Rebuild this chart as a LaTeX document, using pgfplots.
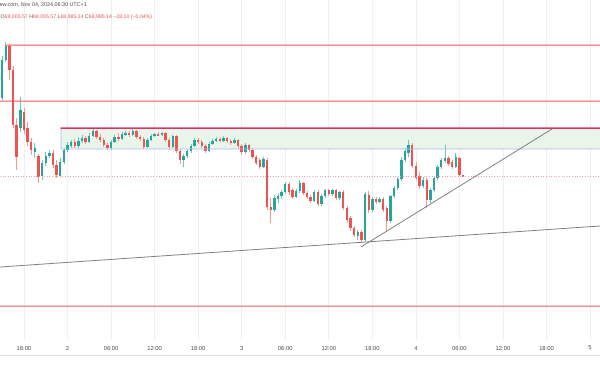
\documentclass[border=0pt]{standalone}
\usepackage{fontspec}
\setmainfont{Liberation Sans}
\usepackage{pgfplots}
\usepackage{pgfplotstable}
\pgfplotsset{compat=1.18}
\definecolor{upc}{HTML}{26A69A}
\definecolor{dnc}{HTML}{EF5350}
\definecolor{lvlred}{HTML}{F05560}
\definecolor{zonetop}{HTML}{E0305F}
\definecolor{zoneedge}{HTML}{AEB8F2}
\definecolor{zonefill}{HTML}{E9F5EA}
\definecolor{pline}{HTML}{F5A3A8}
\definecolor{trendc}{HTML}{808080}
\definecolor{gridc}{HTML}{EEF0F4}
\definecolor{txt}{HTML}{4A4A4A}
\pgfplotstableread{
i o h l c
0 98 56 100 60
1 60 42 62 46
2 46 44 80 70
3 70 66 128 125
4 125 118 170 157
5 128 97 132 110
6 112 108 134 130
7 128 122 146 142
8 142 138 155 150
9 152 143 158 148
10 156 154 183 177
11 176 160 180 163
12 163 152 166 156
13 156 150 158 153
14 153 150 168 165
15 165 160 178 175
16 176 158 177 162
17 162 148 164 150
18 150 142 152 145
19 146 140 148 142
20 142 139 148 146
21 146 137 148 141
22 141 135 143 138
23 138 136 144 142
24 142 133 143 136
25 136 128 137 131
26 131 130 139 137
27 137 134 142 140
28 140 138 147 145
29 145 143 150 148
30 148 140 150 142
31 142 135 143 137
32 137 133 141 139
33 139 132 140 134
34 134 131 136 133
35 133 131 137 135
36 135 129 136 131
37 131 130 139 137
38 137 135 141 139
39 139 137 149 147
40 147 138 148 140
41 140 134 141 136
42 136 133 137 134
43 134 132 136 135
44 135 132 136 133
45 133 132 142 140
46 140 138 150 147
47 147 135 148 136
48 136 135 153 151
49 151 149 164 160
50 160 154 167 156
51 156 149 158 151
52 151 144 153 146
53 146 138 147 140
54 140 138 144 142
55 142 140 148 146
56 146 144 153 151
57 151 142 152 144
58 144 139 145 141
59 141 137 142 139
60 139 137 142 141
61 141 136 142 138
62 138 137 143 141
63 141 139 145 143
64 143 138 144 140
65 140 139 149 146
66 146 144 155 152
67 152 143 154 145
68 145 144 152 150
69 150 148 159 157
70 157 155 165 163
71 160 158 169 167
72 167 157 168 159
73 160 158 210 207
74 207 198 223 210
75 210 195 212 198
76 199 193 203 196
77 196 190 199 192
78 192 182 194 184
79 184 182 195 192
80 190 188 199 197
81 197 189 198 191
82 191 180 193 183
83 183 182 195 193
84 193 191 199 197
85 197 195 203 201
86 201 190 202 192
87 192 190 206 204
88 204 194 206 196
89 196 189 198 190
90 190 189 196 194
91 194 189 196 190
92 190 189 200 198
93 198 191 200 192
94 192 190 210 208
95 208 206 223 220
96 218 216 231 228
97 228 226 237 235
98 236 230 240 232
99 232 230 243 240
100 240 192 242 194
101 195 191 213 210
102 210 197 212 199
103 199 197 204 202
104 202 197 203 199
105 199 197 212 210
106 208 206 232 221
107 221 195 223 196
108 196 186 198 188
109 188 177 190 179
110 179 157 181 160
111 160 148 162 151
112 153 140 157 145
113 145 143 168 166
114 166 162 180 178
115 176 172 189 186
116 186 177 188 180
117 180 178 208 200
118 200 188 203 190
119 190 176 192 178
120 178 165 180 167
121 167 158 169 160
122 161 145 163 158
123 158 156 166 164
124 162 160 169 167
125 167 153 168 157
126 158 157 176 175
127 175 175 177 176.5
}\candles
\begin{document}
\begin{tikzpicture}[x=1pt,y=1pt]
\useasboundingbox (0pt,0pt) rectangle (600pt,370pt);
\begin{axis}[
  at={(0pt,30pt)}, anchor=south west,
  width=600pt, height=340pt, scale only axis,
  xmin=-9.3, xmax=73.37, ymin=0, ymax=340, y dir=reverse,
  axis line style={draw=none},
  ytick=\empty,
  xtick={-6,0,6,12,18,24,30,36,42,48,54,60,66,72},
  xticklabels={18:00,2,06:00,12:00,18:00,3,06:00,12:00,18:00,4,06:00,12:00,18:00,5},
  major tick length=0pt,
  xmajorgrids, grid style={gridc, line width=0.7pt},
  xticklabel style={anchor=center, yshift=-8pt, font=\fontsize{5.8}{6}\selectfont, text=txt},
  clip=true,
]
% zone fill
\addplot[fill=zonefill, draw=none, forget plot] coordinates {(-0.9,128) (73.37,128) (73.37,149) (-0.9,149) (-0.9,128)};
% candles: wicks
\addplot[draw=none, mark=none, forget plot, restrict expr to domain={\thisrow{o}-\thisrow{c}}{0:1000},
  error bars/.cd, y dir=both, y explicit, error mark=none, error bar style={line width=0.7pt, color=upc!65}]
  table[x expr={-9+0.5*\thisrow{i}}, y expr={(\thisrow{h}+\thisrow{l})/2}, y error expr={(\thisrow{l}-\thisrow{h})/2}] {\candles};
\addplot[draw=none, mark=none, forget plot, restrict expr to domain={\thisrow{c}-\thisrow{o}}{0.001:1000},
  error bars/.cd, y dir=both, y explicit, error mark=none, error bar style={line width=0.7pt, color=dnc!60}]
  table[x expr={-9+0.5*\thisrow{i}}, y expr={(\thisrow{h}+\thisrow{l})/2}, y error expr={(\thisrow{l}-\thisrow{h})/2}] {\candles};
% candles: bodies
\addplot[draw=none, mark=none, forget plot, restrict expr to domain={\thisrow{o}-\thisrow{c}}{0:1000},
  error bars/.cd, y dir=both, y explicit, error mark=none, error bar style={line width=2.4pt, color=upc}]
  table[x expr={-9+0.5*\thisrow{i}}, y expr={(\thisrow{o}+\thisrow{c})/2}, y error expr={max(abs(\thisrow{o}-\thisrow{c})/2,0.4)}] {\candles};
\addplot[draw=none, mark=none, forget plot, restrict expr to domain={\thisrow{c}-\thisrow{o}}{0.001:1000},
  error bars/.cd, y dir=both, y explicit, error mark=none, error bar style={line width=2.4pt, color=dnc}]
  table[x expr={-9+0.5*\thisrow{i}}, y expr={(\thisrow{o}+\thisrow{c})/2}, y error expr={max(abs(\thisrow{o}-\thisrow{c})/2,0.4)}] {\candles};
% zone edges (thin filled strips)
\addplot[fill=zoneedge, draw=none, forget plot] coordinates {(-0.95,128) (-0.85,128) (-0.85,149) (-0.95,149) (-0.95,128)};
\addplot[fill=zoneedge, draw=none, forget plot] coordinates {(-0.95,148.6) (73.37,148.6) (73.37,149.4) (-0.95,149.4) (-0.95,148.6)};
\addplot[fill=zonetop, draw=none, forget plot] coordinates {(-0.95,127.3) (73.37,127.3) (73.37,128.9) (-0.95,128.9) (-0.95,127.3)};
% horizontal levels (thin filled strips)
\addplot[fill=lvlred, draw=none, forget plot] coordinates {(-8.6,44.5) (73.37,44.5) (73.37,45.5) (-8.6,45.5) (-8.6,44.5)};
\addplot[fill=lvlred, draw=none, forget plot] coordinates {(-9.3,100.5) (73.37,100.5) (73.37,101.5) (-9.3,101.5) (-9.3,100.5)};
\addplot[fill=lvlred, draw=none, forget plot] coordinates {(-9.3,305.5) (73.37,305.5) (73.37,306.5) (-9.3,306.5) (-9.3,305.5)};
\addplot[draw=pline, line width=0.6pt, dotted, mark=none, forget plot] coordinates {(-9.3,176.7) (73.37,176.7)};
% trend lines
\addplot[draw=trendc, line width=0.8pt, mark=none, forget plot] coordinates {(-9.3,267) (73.37,226)};
\addplot[draw=trendc, line width=0.8pt, mark=none, forget plot] coordinates {(40.44,247) (66.75,129)};
\end{axis}
\draw[color=gray!25, line width=0.6pt] (0pt,15pt) -- (600pt,15pt);
\node[anchor=east, inner sep=0pt, font=\fontsize{5.4}{6}\selectfont, text=txt] at (87pt,365pt) {TradingView.com, Nov 04, 2024 06:30 UTC+1};
\node[anchor=west, inner sep=0pt, font=\fontsize{5.2}{6}\selectfont, text=txt] at (0.5pt,353pt) {O\textcolor{dnc}{69,005.57} H\textcolor{dnc}{69,005.57} L\textcolor{dnc}{68,985.14} C\textcolor{dnc}{68,985.14} \textcolor{dnc}{−28.10 (−0.04\%)}};
\end{tikzpicture}
\end{document}
